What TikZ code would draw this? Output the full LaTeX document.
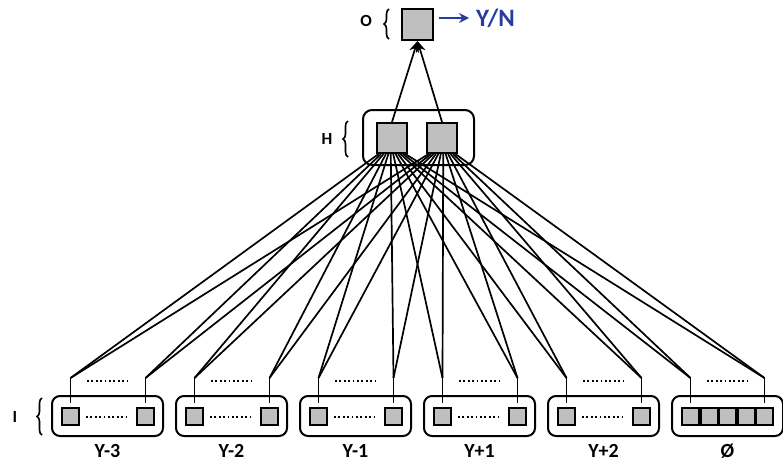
\documentclass[tikz,border=0pt]{standalone}
\usepackage{fontspec}
\setmainfont{Carlito}
\usetikzlibrary{calc,arrows.meta,decorations.pathreplacing}
\definecolor{cellgray}{RGB}{191,191,191}
\definecolor{ynblue}{RGB}{40,60,160}
\begin{document}
\begin{tikzpicture}[x=1pt,y=-1pt,
  cell/.style={draw,fill=cellgray,line width=2pt,minimum size=17pt,inner sep=0pt},
  bigcell/.style={cell,minimum size=30pt},
  grp/.style={draw,rounded corners=8pt,line width=2pt,minimum width=111pt,minimum height=40pt,inner sep=0pt},
  conn/.style={line width=1.7pt},
  dotrow/.style={line width=2pt,dash pattern=on 1.8pt off 2.6pt},
  brc/.style={decorate,decoration={brace,amplitude=5pt},line width=1.6pt},
  lbl/.style={font=\bfseries\fontsize{20}{24}\selectfont},
  sidelbl/.style={font=\bfseries\fontsize{17}{20}\selectfont}]
\useasboundingbox (0,0) rectangle (783,466);

% output
\node[bigcell,minimum size=31pt] (out) at (417.5,24.5) {};
\node[sidelbl,anchor=center] (olbl) at (366,21) {O};
\draw[brc] (389,39) -- (389,9);
\node[font=\bfseries\fontsize{25}{30}\selectfont,text=ynblue,anchor=west,inner sep=0pt] (yn) at (476,18) {Y/N};
\draw[ynblue,line width=2.8pt,-{Stealth[length=10pt,width=10pt]}] ([xshift=5pt]out.east |- yn.west) -- ([xshift=-7pt]yn.west);

% hidden
\node[draw,rounded corners=9pt,line width=2pt,minimum width=111pt,minimum height=55pt,inner sep=0pt] (hbox) at (418.5,137.5) {};
\node[bigcell] (h1) at (392,138) {};
\node[bigcell] (h2) at (442,138) {};
\node[sidelbl] (hlbl) at (327,139) {H};
\draw[brc] (348,157) -- (348,121);
\draw[conn,-{Stealth[length=11pt,width=10pt]}] (h1.north) -- (out.south);
\draw[conn,-{Stealth[length=11pt,width=10pt]}] (h2.north) -- (out.south);

% input groups
\node[sidelbl] (ilbl) at (15,417) {I};
\draw[brc] (42,435) -- (42,398);
\foreach \L/\t [count=\i] in {52/Y-3,176/Y-2,300/Y-1,424/Y+1,548/Y+2} {
  \node[grp] (g\i) at (\L+55.5,416) {};
  \node[cell] (a\i) at (\L+18.5,416.5) {};
  \node[cell] (b\i) at (\L+93.5,416.5) {};
  \draw[dotrow] ([xshift=6pt]a\i.east) -- ([xshift=-7pt]b\i.west);
  \draw[dotrow] (\L+35,381) -- (\L+75,381);
  \coordinate (s\i a) at (\L+18.5,378);
  \coordinate (s\i b) at (\L+93.5,378);
  \draw[conn] (s\i a) -- ([yshift=4pt]a\i.north);
  \draw[conn] (s\i b) -- ([yshift=4pt]b\i.north);
  \node[lbl] (t\i) at (\L+55.5,451) {\t};
}
% empty group
\node[grp] (g6) at (727.5,416) {};
\foreach \j in {0,...,4} {
  \node[cell] (e\j) at (690.5+\j*18.5,416.5) {};
}
\draw[dotrow] (707,381) -- (747,381);
\coordinate (s6a) at (690.5,378);
\coordinate (s6b) at (764.5,378);
\draw[conn] (s6a) -- ([yshift=4pt]e0.north);
\draw[conn] (s6b) -- ([yshift=4pt]e4.north);
\node[lbl] (t6) at (727.5,451) {Ø};

% connections to hidden
\foreach \s [count=\k from 0] in {1a,1b,2a,2b,3a,3b,4a,4b,5a,5b,6a,6b} {
  \pgfmathsetmacro\f{0.08+0.84*\k/11}
  \draw[conn] (s\s) -- ($(h1.south west)!\f!(h1.south east)$);
  \draw[conn] (s\s) -- ($(h2.south west)!\f!(h2.south east)$);
}
\end{tikzpicture}
\end{document}
